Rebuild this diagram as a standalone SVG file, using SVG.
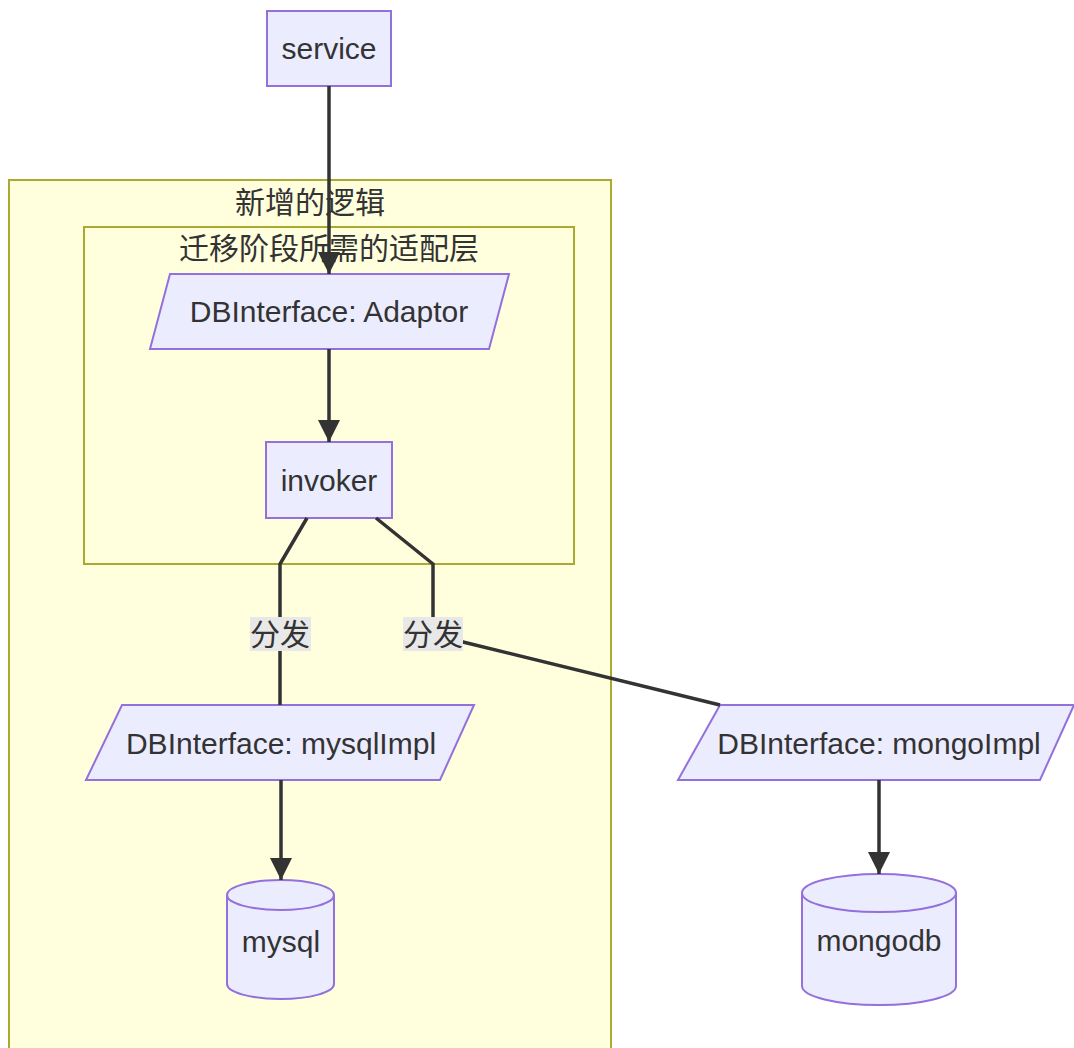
<svg xmlns="http://www.w3.org/2000/svg" width="1074" height="1048" viewBox="0 0 1074 1048">
<style>
.node{fill:#ECECFF;stroke:#9370DB;stroke-width:2}
.cluster{fill:#FFFFDE;stroke:#AAAA33;stroke-width:2}
.t{font-family:"Liberation Sans",Arial,"Noto Sans CJK SC",sans-serif;font-size:30px;fill:#333;text-anchor:middle;dominant-baseline:central}
.edge{fill:none;stroke:#333;stroke-width:3.5}
.lbl{fill:#E8E8E8}
</style>
<defs>
<marker id="arrow" markerUnits="userSpaceOnUse" markerWidth="24" markerHeight="22" refX="22" refY="11" orient="auto">
<path d="M0,0 L22,11 L0,22 z" fill="#333"/>
</marker>
</defs>
<rect width="1074" height="1048" fill="#fff"/>
<g id="cluster-new">
<rect class="cluster" x="9" y="180" width="602" height="880"/>
<text class="t" x="310" y="202">新增的逻辑</text>
</g>
<g id="cluster-adapter">
<rect class="cluster" x="84" y="227" width="490" height="337"/>
<text class="t" x="329" y="248">迁移阶段所需的适配层</text>
</g>
<g id="service">
<rect class="node" x="267" y="11" width="124" height="75"/>
<text class="t" x="329" y="48">service</text>
</g>
<g id="adaptor">
<polygon class="node" points="170,274 509,274 489,349 150,349"/>
<text class="t" x="329" y="311">DBInterface: Adaptor</text>
</g>
<g id="invoker">
<rect class="node" x="266" y="442" width="126" height="76"/>
<text class="t" x="329" y="480">invoker</text>
</g>
<g id="mysqlImpl">
<polygon class="node" points="122,705 474,705 440,780 86,780"/>
<text class="t" x="281" y="743">DBInterface: mysqlImpl</text>
</g>
<g id="mongoImpl">
<polygon class="node" points="720,705 1074,705 1040,780 678,780"/>
<text class="t" x="879" y="743">DBInterface: mongoImpl</text>
</g>
<g id="mysql">
<path class="node" d="M227,895 a53.5,15 0 0,0 107,0 a53.5,15 0 0,0 -107,0 l0,89 a53.5,15 0 0,0 107,0 l0,-89"/>
<text class="t" x="281" y="941">mysql</text>
</g>
<g id="mongodb">
<path class="node" d="M802,893 a77,19 0 0,0 154,0 a77,19 0 0,0 -154,0 l0,93 a77,19 0 0,0 154,0 l0,-93"/>
<text class="t" x="879" y="940">mongodb</text>
</g>
<g id="connectors">
<path class="edge" d="M329,86 L329,274" marker-end="url(#arrow)"/>
<path class="edge" d="M329,349 L329,442" marker-end="url(#arrow)"/>
<path class="edge" d="M307,518 L280,564 L280,705"/>
<path class="edge" d="M376,518 L433,564 L433,634 L463,642 L720,705"/>
<path class="edge" d="M281,780 L281,880" marker-end="url(#arrow)"/>
<path class="edge" d="M879,780 L879,874" marker-end="url(#arrow)"/>
<rect class="lbl" x="250" y="617" width="61" height="34"/>
<text class="t" x="280" y="634">分发</text>
<rect class="lbl" x="403" y="617" width="60" height="34"/>
<text class="t" x="433" y="634">分发</text>
</g>
</svg>
